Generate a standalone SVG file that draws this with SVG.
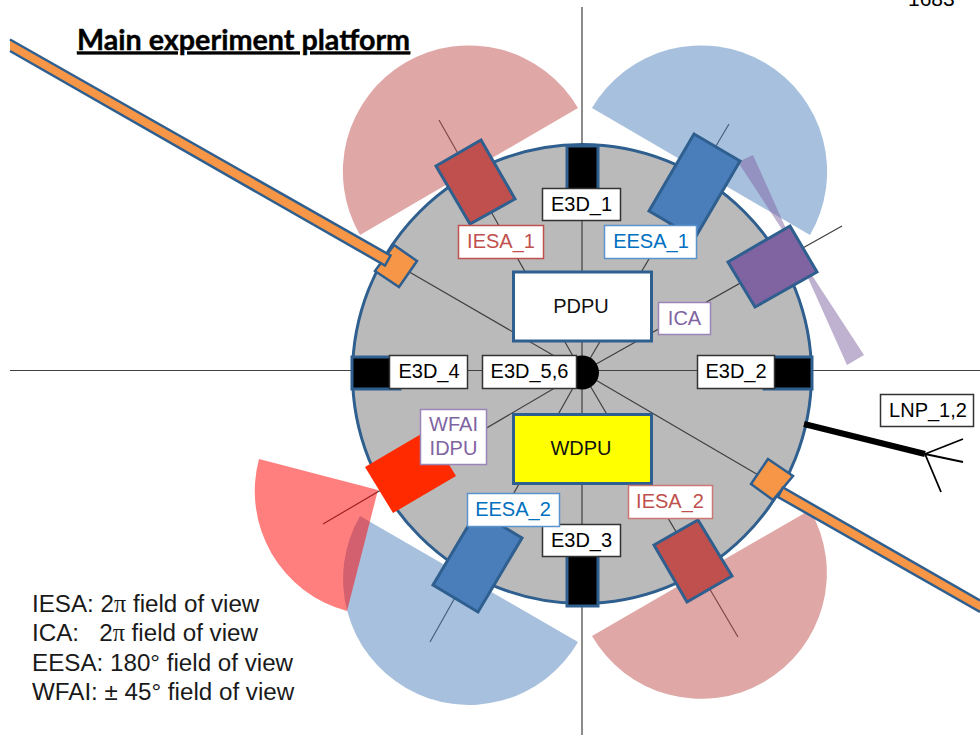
<svg xmlns="http://www.w3.org/2000/svg" width="980" height="735" viewBox="0 0 980 735">
<style>
.t{font-family:"Liberation Sans",Arial,sans-serif;font-size:20px;text-anchor:middle}
.leg{font-family:"Liberation Sans",Arial,sans-serif;font-size:24.200px;fill:#1a1a1a;white-space:pre}
.pi{font-family:"Liberation Serif","Times New Roman",serif}
.lab{fill:#fff;stroke-width:1.5}
.sp{stroke:#404040;stroke-width:1.2;fill:none}
.e3d{fill:#000;stroke:#2f5f8f;stroke-width:3}
.box{stroke:#2f5f8f;stroke-width:3;stroke-linejoin:miter}
.o{fill:#f79646;stroke:#2f5f8f;stroke-width:2.5}
</style>
<rect width="980" height="735" fill="#fff"/>
<g id="platform"><circle cx="582" cy="374" r="229.5" fill="#bababa" stroke="#2f5f8f" stroke-width="3"/></g>
<g id="connectors">
<path class="sp" d="M582,7V735M10,370.5H352M812,370.5H980"/>
<path class="sp" d="M352,370.5H582H812"/>
<path class="sp" d="M582,372L439,120M582,372L729,124M582,372L842,226M582,372L399,266M582,372L323,524M582,372L430,642M582,372L738,637M582,372L760,476"/>
<path d="M804,424L925,454" stroke="#000" stroke-width="6" fill="none"/>
<path d="M925,454L963,439M925,454L963,462M925,454L941,492" stroke="#000" stroke-width="1.8" fill="none"/>
</g>
<g id="fov">
<path d="M360,235A100,100 0 0 1 578,108Z" fill="#c0504d" opacity=".5"/>
<path d="M592,108A100,100 0 0 1 810,235Z" fill="#4f81bd" opacity=".5"/>
<path d="M360,516A100,100 0 0 0 578,642Z" fill="#4f81bd" opacity=".5"/>
<path d="M592,636A100,100 0 0 0 810,510Z" fill="#c0504d" opacity=".5"/>
<path d="M378,490L259,459A124,124 0 0 0 347,611Z" fill="#ff0000" opacity=".5"/>
<path d="M738,162L753,155L847,365L864,355Z" fill="#8064a2" opacity=".5"/>
</g>
<g id="IESA_1_sensor"><polygon class="box" points="481,140 515,199 470,224 436,166" fill="#c0504d"/></g>
<g id="EESA_1_sensor"><polygon class="box" points="694,134 740,161 695,238 649,211" fill="#4a7ebb"/></g>
<g id="ICA_sensor"><polygon class="box" points="790,226 817,272 755,307 728,262" fill="#8064a2"/></g>
<g id="EESA_2_sensor"><polygon class="box" points="477,511 522,538 478,612 433,585" fill="#4a7ebb"/></g>
<g id="IESA_2_sensor"><polygon class="box" points="698,520 732,576 687,602 654,545" fill="#c0504d"/></g>
<g id="WFAI_sensor"><polygon points="428,430 456,476 393,513 365,467" fill="#ff2a00"/></g>
<g id="boom_1">
<polygon class="o" points="394,245 417,261 399,287 375,271"/>
<path d="M10,39.500L390.500,255.500L385,265.500L10,51" fill="#f79646" stroke="#2f5f8f" stroke-width="2.500"/>
</g>
<g id="boom_2">
<polygon class="o" points="768,459 793,476 773,500 751,484"/>
<path d="M980,600.500L783,487.500L778,497L980,612" fill="#f79646" stroke="#2f5f8f" stroke-width="2.500"/>
</g>
<g id="E3D_1"><rect class="e3d" x="567" y="146" width="31" height="44"/><rect class="lab" x="542.500" y="188.500" width="78" height="32" stroke="#333"/><text class="t" x="581.500" y="211">E3D_1</text></g>
<g id="E3D_2"><rect class="e3d" x="764" y="357" width="48" height="32"/><rect class="lab" x="697.500" y="355.500" width="77" height="33" stroke="#333"/><text class="t" x="736" y="378">E3D_2</text></g>
<g id="E3D_3"><rect class="e3d" x="567" y="555" width="31" height="51"/><rect class="lab" x="542.500" y="524.500" width="78" height="32" stroke="#333"/><text class="t" x="581.500" y="547">E3D_3</text></g>
<g id="E3D_4"><rect class="e3d" x="352" y="357" width="48" height="32"/><rect class="lab" x="389.500" y="355.500" width="78" height="33" stroke="#333"/><text class="t" x="429" y="378">E3D_4</text></g>
<g id="E3D_5_6"><circle cx="582" cy="372.500" r="17" fill="#000"/><rect class="lab" x="482.500" y="355.500" width="94" height="33" stroke="#333"/><text class="t" x="529.500" y="378">E3D_5,6</text></g>
<g id="PDPU"><rect class="box" x="513.500" y="272" width="138" height="69" fill="#fff"/><text class="t" x="581" y="313" fill="#111">PDPU</text></g>
<g id="WDPU"><rect class="box" x="513.500" y="414.500" width="138" height="69" fill="#ff0"/><text class="t" x="581" y="455" fill="#111">WDPU</text></g>
<g id="IESA_1"><rect class="lab" x="458.500" y="225.500" width="85" height="33" stroke="#c0504d"/><text class="t" x="501" y="248" fill="#c0504d">IESA_1</text></g>
<g id="EESA_1"><rect class="lab" x="604.500" y="225.500" width="92" height="33" stroke="#5b93cc"/><text class="t" x="651" y="248" fill="#0070c0">EESA_1</text></g>
<g id="ICA"><rect class="lab" x="658.500" y="302.500" width="52" height="32" stroke="#9b84b8"/><text class="t" x="684.500" y="325" fill="#8064a2">ICA</text></g>
<g id="WFAI_IDPU"><rect class="lab" x="420.500" y="409.500" width="66" height="55" stroke="#9b84b8"/><text class="t" x="453.500" y="431" fill="#8064a2">WFAI</text><text class="t" x="453.500" y="455" fill="#8064a2">IDPU</text></g>
<g id="EESA_2"><rect class="lab" x="467.500" y="493.500" width="92" height="33" stroke="#5b93cc"/><text class="t" x="513" y="516" fill="#0070c0">EESA_2</text></g>
<g id="IESA_2"><rect class="lab" x="628.500" y="485.500" width="84" height="33" stroke="#cc7774"/><text class="t" x="670" y="508" fill="#c0504d">IESA_2</text></g>
<g id="LNP_1_2"><rect class="lab" x="880.500" y="394.500" width="93" height="32" stroke="#333"/><text class="t" x="928" y="417">LNP_1,2</text></g>
<text id="title" x="77" y="49.500" font-family="Lato,'Liberation Sans',sans-serif" font-weight="700" font-size="28.700px" stroke="#000" stroke-width=".4" text-decoration="underline">Main experiment platform</text>
<text id="clipped" x="908" y="6" font-family="Liberation Sans,sans-serif" font-size="21px">1683</text>
<g id="legend">
<text class="leg" x="32" y="612">IESA: 2<tspan class="pi">π</tspan> field of view</text>
<text class="leg" x="32" y="641">ICA:   2<tspan class="pi">π</tspan> field of view</text>
<text class="leg" x="32" y="671">EESA: 180° field of view</text>
<text class="leg" x="32" y="700">WFAI: ± 45° field of view</text>
</g>
</svg>
